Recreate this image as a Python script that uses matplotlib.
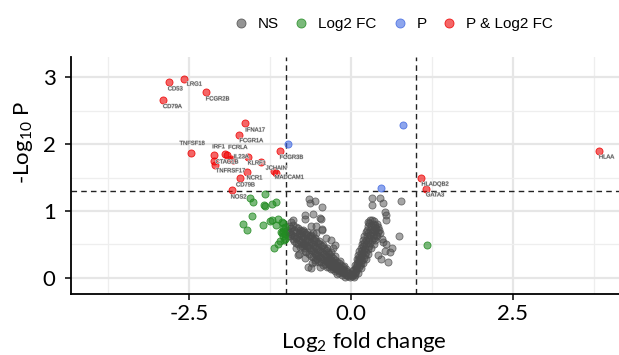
import matplotlib
matplotlib.use("Agg")
import matplotlib.pyplot as plt
from matplotlib.lines import Line2D
from matplotlib.ticker import MultipleLocator, FixedLocator
from matplotlib.colors import to_rgba
import matplotlib.patheffects as pe

plt.rcParams['axes.unicode_minus'] = False
plt.rcParams['mathtext.fontset'] = 'custom'
plt.rcParams['mathtext.rm'] = 'Lato'
plt.rcParams['mathtext.default'] = 'regular'

# ---------------- data ----------------
# significant in both P and Log2 FC (labelled genes)
red_genes = ["LRG1", "CD53", "CD79A", "FCGR2B", "IFNA17", "FCGR1A", "TNFSF18", "IRF1",
             "FCRLA", "IL23A", "CTAG1B", "TNFRSF17", "KLRF1", "FCGR3B", "JCHAIN",
             "MADCAM1", "NCR1", "CD79B", "NOS2", "HLAA", "HLADQB2", "GATA3"]
red_fc = [-2.58, -2.81, -2.90, -2.24, -1.63, -1.72, -2.46, -2.12,
          -1.94, -1.58, -2.12, -2.10, -1.39, -1.10, -1.19,
          -1.16, -1.61, -1.71, -1.84, 3.83, 1.09, 1.16]
red_p = [2.97, 2.92, 2.66, 2.77, 2.31, 2.14, 1.86, 1.83,
         1.85, 1.81, 1.74, 1.69, 1.73, 1.90, 1.60,
         1.57, 1.58, 1.49, 1.31, 1.90, 1.49, 1.33]
# unlabelled red points
red_extra_fc = [-1.91, -1.85, -1.82]
red_extra_p = [1.83, 1.78, 1.76]

# significant P only
blue_fc = [-0.97, 0.81, 0.46]
blue_p = [2.00, 2.29, 1.34]

# significant Log2 FC only
green_fc = [-1.55, -1.51, -1.33, -1.34, -1.32, -1.22, -1.15, -1.53, -1.66, -1.60,
            -1.35, -1.25, -1.22, -1.12, -1.15, -1.05, -1.05, -1.07, -1.10, -1.12,
            -1.19, -1.04, -1.02, -1.08, -1.06, -1.02, -1.04, -1.01, -1.03, 1.17]
green_p = [1.20, 1.13, 1.25, 1.09, 1.07, 1.11, 1.13, 0.93, 0.81, 0.71,
           0.79, 0.85, 0.87, 0.88, 0.79, 0.82, 0.74, 0.67, 0.55, 0.50,
           0.45, 0.62, 0.58, 0.68, 0.83, 0.76, 0.70, 0.65, 0.57, 0.49]

# not significant (fold change, -log10 P)
ns_points = [
    # left arm
    (-0.02, 0.01), (-0.02, 0.04), (-0.05, 0.03), (-0.05, 0.07), (-0.08, 0.05), (-0.08, 0.10),
    (-0.09, 0.02), (-0.11, 0.07), (-0.11, 0.12), (-0.12, 0.16), (-0.14, 0.09), (-0.14, 0.14),
    (-0.15, 0.19), (-0.17, 0.10), (-0.17, 0.16), (-0.18, 0.22), (-0.20, 0.12), (-0.20, 0.18),
    (-0.21, 0.24), (-0.19, 0.08), (-0.23, 0.14), (-0.23, 0.20), (-0.24, 0.27), (-0.26, 0.16),
    (-0.26, 0.23), (-0.27, 0.30), (-0.25, 0.10), (-0.29, 0.18), (-0.29, 0.26), (-0.30, 0.33),
    (-0.32, 0.20), (-0.32, 0.28), (-0.33, 0.36), (-0.31, 0.13), (-0.35, 0.22), (-0.35, 0.31),
    (-0.36, 0.39), (-0.38, 0.25), (-0.38, 0.33), (-0.39, 0.42), (-0.37, 0.16), (-0.41, 0.27),
    (-0.41, 0.36), (-0.42, 0.44), (-0.44, 0.29), (-0.44, 0.38), (-0.45, 0.47), (-0.43, 0.20),
    (-0.47, 0.31), (-0.47, 0.40), (-0.48, 0.50), (-0.50, 0.33), (-0.50, 0.42), (-0.51, 0.52),
    (-0.49, 0.24), (-0.53, 0.35), (-0.53, 0.45), (-0.54, 0.55), (-0.56, 0.37), (-0.56, 0.47),
    (-0.57, 0.57), (-0.55, 0.27), (-0.59, 0.40), (-0.59, 0.50), (-0.60, 0.60), (-0.62, 0.42),
    (-0.62, 0.52), (-0.63, 0.62), (-0.61, 0.33), (-0.60, 0.22), (-0.65, 0.44), (-0.65, 0.55),
    (-0.66, 0.64), (-0.68, 0.47), (-0.68, 0.57), (-0.69, 0.66), (-0.71, 0.49), (-0.71, 0.59),
    (-0.72, 0.68), (-0.70, 0.40), (-0.70, 0.30), (-0.74, 0.51), (-0.74, 0.61), (-0.75, 0.70),
    (-0.77, 0.54), (-0.77, 0.63), (-0.78, 0.72), (-0.80, 0.56), (-0.80, 0.65), (-0.81, 0.74),
    (-0.79, 0.46), (-0.80, 0.36), (-0.84, 0.59), (-0.84, 0.68), (-0.85, 0.76), (-0.85, 0.45),
    (-0.88, 0.62), (-0.88, 0.71), (-0.89, 0.79), (-0.92, 0.65), (-0.92, 0.74), (-0.96, 0.68),
    (-0.96, 0.77),
    (-0.07, 0.13), (-0.13, 0.04), (-0.16, 0.26), (-0.22, 0.06), (-0.25, 0.33), (-0.28, 0.13),
    (-0.31, 0.39), (-0.34, 0.16), (-0.37, 0.45), (-0.40, 0.21), (-0.43, 0.49), (-0.46, 0.24),
    (-0.49, 0.55), (-0.52, 0.29), (-0.55, 0.59), (-0.58, 0.31), (-0.61, 0.64), (-0.64, 0.36),
    (-0.67, 0.69), (-0.69, 0.38), (-0.73, 0.44), (-0.76, 0.48), (-0.82, 0.50), (-0.87, 0.55),
    (-0.90, 0.58), (-0.94, 0.62), (-0.98, 0.72), (-0.46, 0.34), (-0.52, 0.39), (-0.58, 0.45),
    (-0.64, 0.49), (-0.70, 0.54), (-0.76, 0.58), (-0.83, 0.63), (-0.36, 0.27), (-0.30, 0.22),
    (-0.24, 0.17), (-0.18, 0.13), (-0.12, 0.09), (-0.06, 0.05), (-0.03, 0.08), (-0.10, 0.18),
    # left scatter
    (-0.64, 1.18), (-0.63, 1.12), (-0.55, 1.15), (-0.70, 0.94), (-0.71, 0.88), (-0.58, 0.95),
    (-0.44, 1.06), (-0.46, 0.88), (-0.48, 0.90), (-0.89, 0.87), (-0.92, 0.84), (-0.61, 0.77),
    (-0.54, 0.67), (-0.45, 0.72), (-0.74, 0.72), (-0.79, 0.67), (-0.94, 0.69), (-0.97, 0.62),
    (-0.84, 0.52), (-0.38, 0.59), (-0.30, 0.57), (-0.27, 0.44), (-0.44, 0.73), (-0.25, 0.49),
    (-0.37, 0.27), (-0.32, 0.19), (-0.61, 0.15), (-0.48, 0.17), (-0.56, 0.24), (-0.53, 0.77),
    (-0.58, 0.67), (-0.66, 0.16), (-0.81, 0.34),
    # right arm
    (0.02, 0.03), (0.02, 0.06), (0.04, 0.05), (0.04, 0.10), (0.05, 0.02), (0.06, 0.08),
    (0.06, 0.14), (0.08, 0.10), (0.08, 0.17), (0.09, 0.22), (0.10, 0.13), (0.10, 0.20),
    (0.11, 0.27), (0.12, 0.16), (0.12, 0.24), (0.13, 0.32), (0.14, 0.20), (0.14, 0.28),
    (0.15, 0.37), (0.16, 0.23), (0.16, 0.32), (0.17, 0.42), (0.18, 0.27), (0.18, 0.36),
    (0.19, 0.47), (0.20, 0.30), (0.20, 0.40), (0.21, 0.52), (0.22, 0.34), (0.22, 0.45),
    (0.23, 0.57), (0.24, 0.38), (0.24, 0.50), (0.25, 0.62), (0.26, 0.43), (0.26, 0.55),
    (0.27, 0.67), (0.28, 0.48), (0.28, 0.60), (0.29, 0.72), (0.28, 0.82), (0.30, 0.52),
    (0.30, 0.64), (0.31, 0.77), (0.30, 0.86), (0.33, 0.56), (0.33, 0.68), (0.34, 0.80),
    (0.36, 0.60), (0.36, 0.72), (0.37, 0.79), (0.39, 0.64), (0.39, 0.75), (0.42, 0.68),
    (0.42, 0.76),
    (0.03, 0.12), (0.07, 0.20), (0.09, 0.28), (0.11, 0.35), (0.13, 0.40), (0.15, 0.45),
    (0.17, 0.50), (0.19, 0.56), (0.21, 0.62), (0.23, 0.68), (0.25, 0.72), (0.27, 0.78),
    (0.34, 0.62), (0.38, 0.70), (0.40, 0.80), (0.44, 0.72), (0.35, 0.85), (0.15, 0.15),
    (0.11, 0.08), (0.07, 0.04), (0.19, 0.22), (0.23, 0.28), (0.27, 0.36), (0.31, 0.44),
    (0.35, 0.50), (0.38, 0.56), (0.41, 0.62),
    # right scatter
    (0.32, 1.20), (0.33, 1.09), (0.45, 1.19), (0.49, 1.12), (0.77, 1.15), (0.52, 0.99),
    (0.55, 0.94), (0.54, 0.86), (0.27, 0.83), (0.32, 0.86), (0.37, 0.74), (0.45, 0.67),
    (0.50, 0.54), (0.74, 0.62), (0.63, 0.44), (0.58, 0.24), (0.60, 0.39), (0.47, 0.29),
    (0.42, 0.35), (0.55, 0.50), (0.52, 0.40), (0.48, 0.58),
]
ns_fc = [p[0] for p in ns_points]
ns_p = [p[1] for p in ns_points]

fc_cutoff = 1.0
p_cutoff = 1.301  # -log10(0.05)
x_ticks = [-2.5, 0.0, 2.5]
x_tick_labels = ["-2.5", "0.0", "2.5"]
y_ticks = [0, 1, 2, 3]
y_tick_labels = ["0", "1", "2", "3"]
legend_labels = ["NS", "Log2 FC", "P", "P & Log2 FC"]

# label offsets in pixels (dx right, dy down) from point
label_offsets = {
    "LRG1": (3, 5), "CD53": (-1, 6.4), "CD79A": (0, 6.7), "FCGR2B": (0, 6.4),
    "IFNA17": (0, 6.7), "FCGR1A": (0, 6), "TNFSF18": (-12, -10), "IRF1": (-1.3, -8.7),
    "FCRLA": (3, -6.7), "IL23A": (-15, 0), "CTAG1B": (2, 0.5), "TNFRSF17": (1, 6),
    "KLRF1": (-13, 1), "FCGR3B": (0, 6.6), "JCHAIN": (-8, -2.7), "MADCAM1": (-1, 4.5),
    "NCR1": (0, 5.7), "CD79B": (-4, 6.7), "NOS2": (-1, 6.7), "HLAA": (0, 6.3),
    "HLADQB2": (0, 6), "GATA3": (0, 6),
}

# ---------------- figure ----------------
W, H = 619, 355
fig = plt.figure(figsize=(W / 100, H / 100), dpi=100)
ax = fig.add_axes([71 / W, 1 - 294 / H, 548 / W, 237 / H])
ax.set_xlim(-4.32, 4.14)
ax.set_ylim(-0.24, 3.3)

ax.xaxis.set_major_locator(FixedLocator(x_ticks))
ax.set_xticklabels(x_tick_labels)
ax.yaxis.set_major_locator(FixedLocator(y_ticks))
ax.set_yticklabels(y_tick_labels)
ax.xaxis.set_minor_locator(MultipleLocator(1.25))
ax.yaxis.set_minor_locator(MultipleLocator(0.5))
ax.grid(True, which='major', color='#e6e6e6', lw=1.6, zorder=0)
ax.grid(True, which='minor', color='#eeeeee', lw=0.9, zorder=0)
ax.set_axisbelow(True)
ax.tick_params(which='minor', length=0)
ax.tick_params(which='major', length=4, width=1.1, color='black', direction='out',
               labelsize=16)
ax.tick_params(axis='x', pad=3)
ax.tick_params(axis='y', pad=7)
for lab in ax.get_xticklabels() + ax.get_yticklabels():
    lab.set_family('Lato')
for s in ['top', 'right']:
    ax.spines[s].set_visible(False)
for s in ['left', 'bottom']:
    ax.spines[s].set_color('black')
    ax.spines[s].set_linewidth(1.3)

dash = (0, (4, 3))
ax.axvline(-fc_cutoff, color='#222222', lw=1.0, ls=dash, zorder=1)
ax.axvline(fc_cutoff, color='#222222', lw=1.0, ls=dash, zorder=1)
ax.axhline(p_cutoff, color='#222222', lw=1.0, ls=dash, zorder=1)

def style(c, a=0.6, ea=0.85):
    return dict(facecolor=to_rgba(c, a), edgecolor=to_rgba(c, ea), linewidths=0.6, s=26)

c_ns, c_green, c_blue, c_red = '#4d4d4d', '#228b22', '#4169e1', '#ee0000'
ax.scatter(ns_fc, ns_p, zorder=3, **style(c_ns, 0.5, 0.75))
ax.scatter(green_fc, green_p, zorder=3, **style(c_green))
ax.scatter(blue_fc, blue_p, zorder=3, **style(c_blue))
ax.scatter(red_fc + red_extra_fc, red_p + red_extra_p, zorder=3, **style(c_red))

for g, x, y in zip(red_genes, red_fc, red_p):
    dx, dy = label_offsets[g]
    ax.annotate(g, (x, y), xytext=(dx * 0.72, -dy * 0.72), textcoords='offset points',
                fontsize=4.2, family='Liberation Sans', color='#303030',
                ha='left', va='center', zorder=4,
                path_effects=[pe.withStroke(linewidth=0.8, foreground='#d8d8d8')])

ax.set_xlabel("Log$_2$ fold change", family='Lato', fontsize=16)
ax.xaxis.set_label_coords(0.535, -0.15)
ax.set_ylabel("-Log$_{10}$ P", family='Lato', fontsize=16)
ax.yaxis.set_label_coords(-0.066, 0.64)

handles = [Line2D([], [], ls='none', marker='o', markersize=6.5,
                  markerfacecolor=to_rgba(c, 0.6), markeredgecolor=to_rgba(c, 0.85),
                  markeredgewidth=0.6)
           for c in (c_ns, c_green, c_blue, c_red)]
fig.legend(handles, legend_labels, loc='center', bbox_to_anchor=(393 / W, 1 - 24 / H),
           ncol=4, frameon=False, prop={'family': 'Liberation Sans', 'size': 11},
           handletextpad=0.6, columnspacing=1.0, handlelength=1.0)

fig.savefig('out.png', dpi=100)
